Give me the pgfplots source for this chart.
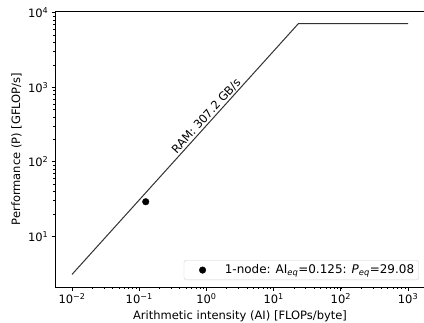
\documentclass[border=0pt]{standalone}
\usepackage{fontspec}
\setmainfont{DejaVu Sans}
\usepackage{pgfplots}
\pgfplotsset{compat=1.18}
\begin{document}
\begin{tikzpicture}
\begin{axis}[
  at={(0,0)}, anchor=south west,
  scale only axis, width=401.7pt, height=300pt,
  xmode=log, ymode=log,
  xmin=0.005623, xmax=1778.3, ymin=2.082, ymax=10617,
  axis line style={line width=0.9pt, black},
  tick align=outside, tick pos=left,
  major tick length=4pt, minor tick length=2.3pt,
  every major tick/.append style={line width=0.9pt, black},
  every minor tick/.append style={line width=0.7pt, black},
  xtick={0.01,0.1,1,10,100,1000},
  xticklabels={10\textsuperscript{−2},10\textsuperscript{−1},10\textsuperscript{0},10\textsuperscript{1},10\textsuperscript{2},10\textsuperscript{3}},
  ytick={10,100,1000,10000},
  yticklabels={10\textsuperscript{1},10\textsuperscript{2},10\textsuperscript{3},10\textsuperscript{4}},
  ticklabel style={font=\fontsize{12.5}{15}\selectfont},
  xlabel={Arithmetic intensity (AI) [FLOPs/byte]},
  ylabel={Performance (P) [GFLOP/s]},
  label style={font=\fontsize{12.5}{15}\selectfont},
  legend style={at={(0.984,0.025)}, anchor=south east, draw=black!20, rounded corners=2pt,
    font=\fontsize{13}{15}\selectfont, inner sep=3pt, row sep=0pt},
  legend cell align=left,
]
\addplot[black!80, line width=1.1pt, forget plot] coordinates {(0.01,3.072) (23.4375,7200) (1000,7200)};
\addplot[draw=none, forget plot] coordinates {(0.01,3.072) (23.4375,7200)}
  node[pos=0.614, sloped, above, inner sep=1.5pt, font=\fontsize{12.5}{15}\selectfont] {RAM: 307.2 GB/s};
\addplot[only marks, mark=*, mark size=3.6pt, black,
  legend image code/.code={\path (0pt,0pt) (39pt,0pt); \draw[##1] plot coordinates {(17pt,0pt)};}]
  coordinates {(0.125,29.08)};
\addlegendentry{1-node: AI\textsubscript{\textit{eq}}=0.125: \textit{P}\textsubscript{\textit{eq}}=29.08}
\end{axis}
\pgfresetboundingbox
\path[use as bounding box] (-60pt,-39.1pt) rectangle (400.8pt,311.9pt);
\end{tikzpicture}
\end{document}
